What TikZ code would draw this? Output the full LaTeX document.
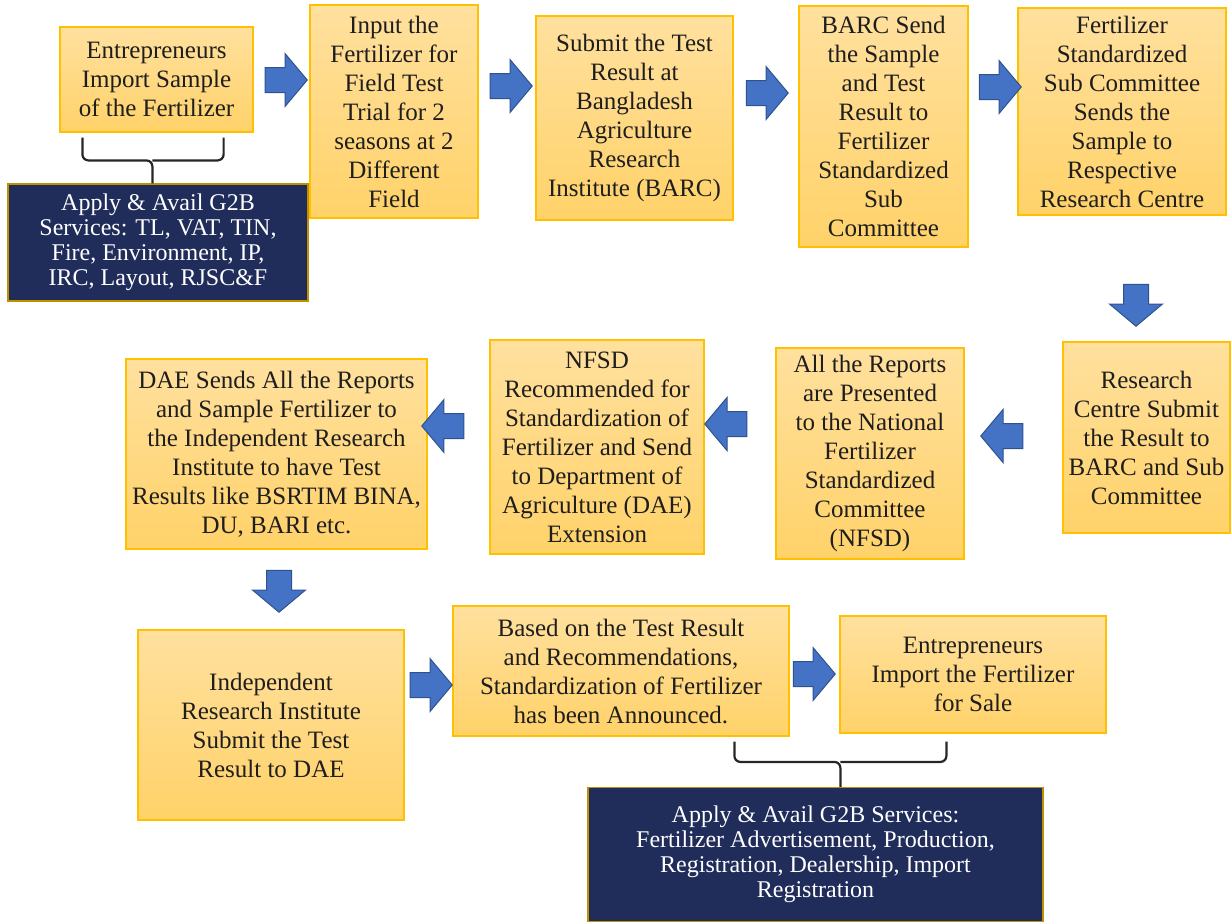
\documentclass[tikz,border=0pt]{standalone}
\usepackage{fontspec}
\setmainfont{Liberation Serif}
\usepackage{tikz}
\usetikzlibrary{calc,shapes.arrows}

\definecolor{boxtop}{RGB}{255,224,158}
\definecolor{boxbot}{RGB}{255,210,105}
\definecolor{boxline}{RGB}{255,192,0}
\definecolor{gbfill}{RGB}{32,44,90}
\definecolor{gbline}{RGB}{191,144,0}
\definecolor{arrfill}{RGB}{68,114,196}
\definecolor{arrline}{RGB}{47,82,143}
\definecolor{txt}{RGB}{30,30,30}
\definecolor{brline}{RGB}{38,38,38}

\begin{document}
\begin{tikzpicture}
   [x=0.5pt,y=-0.5pt,
    box/.style={rectangle,draw=boxline,line width=0.6pt,top color=boxtop,
      bottom color=boxbot,align=center,inner sep=0pt,text=txt,
      font=\fontsize{12.5}{14.5}\selectfont},
    gbox/.style={rectangle,draw=gbline,line width=0.6pt,fill=gbfill,
      align=center,inner sep=0pt,text=white,
      font=\fontsize{12}{12.5}\selectfont},
    barrow/.style={single arrow,draw=arrline,fill=arrfill,line width=0.5pt,
      inner xsep=0pt,inner ysep=6pt,minimum height=21pt,
      single arrow head extend=7pt,single arrow tip angle=100},
    bracket/.style={draw=brline,line width=1.1pt,rounded corners=3pt}]

\useasboundingbox (0,0) rectangle (1232,923);

% first row
\node [box,minimum width=96.5pt,minimum height=52.5pt] (imp) at (156.5,79.5)
  {Entrepreneurs\\Import Sample\\of the Fertilizer};
\node [box,minimum width=84pt,minimum height=106.5pt] (trial) at (394,111.5)
  {Input the\\Fertilizer for\\Field Test\\Trial for 2\\seasons at 2\\Different\\Field};
\node [box,minimum width=98.5pt,minimum height=102pt] (barc) at (634.5,118)
  {Submit the Test\\Result at\\Bangladesh\\Agriculture\\Research\\Institute (BARC)};
\node [box,minimum width=84.5pt,minimum height=120.5pt] (send) at (883.5,126.5)
  {BARC Send\\the Sample\\and Test\\Result to\\Fertilizer\\Standardized\\Sub\\Committee};
\node [box,minimum width=104pt,minimum height=103.5pt] (subc) at (1122,111.5)
  {Fertilizer\\Standardized\\Sub Committee\\Sends the\\Sample to\\Respective\\Research Centre};
\node [gbox,minimum width=150pt,minimum height=58.5pt] (gtwob1) at (158,242.5)
  {Apply \& Avail G2B\\Services: TL, VAT, TIN,\\Fire, Environment, IP,\\IRC, Layout, RJSC\&F};

% second row
\node [box,minimum width=83.5pt,minimum height=95.5pt] (centre) at (1146.5,437.5)
  {Research\\Centre Submit\\the Result to\\BARC and Sub\\Committee};
\node [box,minimum width=94pt,minimum height=105.5pt] (nfsd) at (870,453.5)
  {All the Reports\\are Presented\\to the National\\Fertilizer\\Standardized\\Committee\\(NFSD)};
\node [box,minimum width=107pt,minimum height=107pt] (recom) at (597,447)
  {NFSD\\Recommended for\\Standardization of\\Fertilizer and Send\\to Department of\\Agriculture (DAE)\\Extension};
\node [box,minimum width=150.5pt,minimum height=95pt] (dae) at (276.5,454)
  {DAE Sends All the Reports\\and Sample Fertilizer to\\the Independent Research\\Institute to have Test\\Results like BSRTIM BINA,\\DU, BARI etc.};

% third row
\node [box,minimum width=133pt,minimum height=95pt] (indep) at (271,725)
  {Independent\\Research Institute\\Submit the Test\\Result to DAE};
\node [box,minimum width=168pt,minimum height=65pt] (annc) at (621,671)
  {Based on the Test Result\\and Recommendations,\\Standardization of Fertilizer\\has been Announced.};
\node [box,minimum width=133pt,minimum height=58.5pt] (sale) at (973,674.5)
  {Entrepreneurs\\Import the Fertilizer\\for Sale};
\node [gbox,minimum width=227.5pt,minimum height=67pt] (gtwob2) at (815.5,854.5)
  {Apply \& Avail G2B Services:\\Fertilizer Advertisement, Production,\\Registration, Dealership, Import\\Registration};

% block arrows
\node [barrow] (a1) at (281,80) {};
\node [barrow] (a2) at (506,86) {};
\node [barrow] (a3) at (762,93) {};
\node [barrow] (a4) at (995,87) {};
\node [barrow,rotate=-90] (a5) at (1136,300) {};
\node [barrow,rotate=180] (a6) at (1007,436) {};
\node [barrow,rotate=180] (a7) at (731,424) {};
\node [barrow,rotate=180] (a8) at (448,426) {};
\node [barrow,rotate=-90] (a9) at (279,586) {};
\node [barrow] (a10) at (426,685) {};
\node [barrow] (a11) at (809,674) {};

% brackets
\coordinate (stem1) at ($(gtwob1.north west)+(145,-23)$);
\draw [bracket] ($(imp.south west)+(23,5)$) |- (stem1) -- (gtwob1.north -| stem1);
\draw [bracket] ($(imp.south east)+(-30,5)$) |- (stem1);
\coordinate (stem2) at ($(gtwob2.north west)+(253,-25)$);
\draw [bracket] ($(annc.south west)+(282,5)$) |- (stem2) -- (gtwob2.north -| stem2);
\draw [bracket] ($(sale.south west)+(107,8)$) |- (stem2);
\end{tikzpicture}
\end{document}
